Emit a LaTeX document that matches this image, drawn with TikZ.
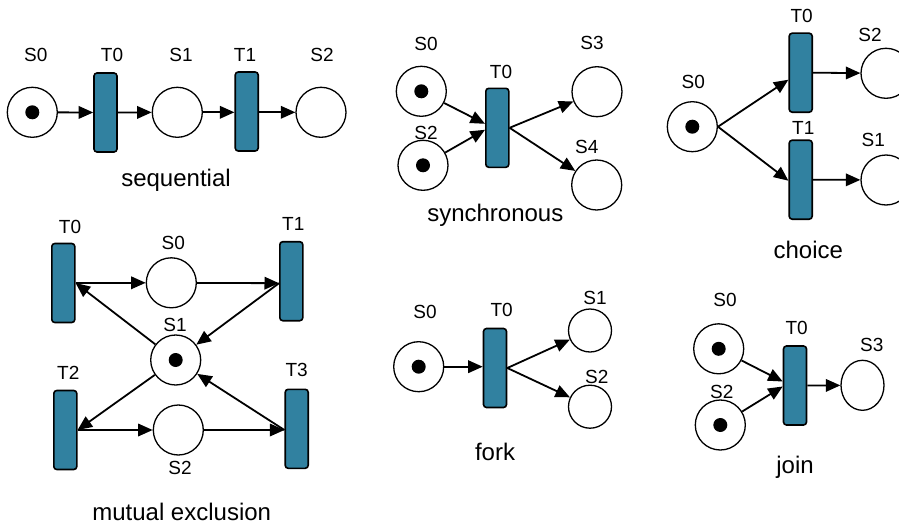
\documentclass[tikz,border=0pt]{standalone}
\usepackage{fontspec}
\setmainfont{Liberation Sans}
\usetikzlibrary{arrows.meta,shapes.geometric}
\definecolor{transfill}{HTML}{3181A0}
\tikzset{
  place/.style={circle, draw, line width=1.3pt, minimum size=50pt, inner sep=0pt},
  smallplace/.style={place, minimum size=43pt},
  tokplace/.style={place, path picture={\fill (path picture bounding box.center) circle (7pt);}},
  trans/.style={rectangle, rounded corners=3pt, draw, line width=1.6pt, fill=transfill, minimum width=23pt, minimum height=79pt, inner sep=0pt},
  lbl/.style={inner sep=0pt, font=\fontsize{19}{22}\selectfont},
  captxt/.style={inner sep=0pt, anchor=base, font=\fontsize{24}{28}\selectfont},
  arc/.style={line width=1.8pt, -{Triangle[length=14.5pt,width=12.5pt]}},
}
\begin{document}
\begin{tikzpicture}[x=1pt,y=-1pt]
\useasboundingbox (0,0) rectangle (899,527);

% ---------- sequential ----------
\node[tokplace] (qS0) at (32.3,112.3) {};
\node[trans] (qT0) at (105.5,112.5) {};
\node[place] (qS1) at (177.3,112.3) {};
\node[trans] (qT1) at (246.7,111.5) {};
\node[place] (qS2) at (321,112.3) {};
\node[lbl] (lqS0) at (35.7,55) {S0};
\node[lbl] (lqT0) at (112,55) {T0};
\node[lbl] (lqS1) at (181,55) {S1};
\node[lbl] (lqT1) at (245,55) {T1};
\node[lbl] (lqS2) at (322,55) {S2};
\node[captxt] (cseq) at (176,186.7) {sequential};
\draw[arc] (qS0) -- (qT0);
\draw[arc] (qT0) -- (qS1);
\draw[arc] (qS1) -- (qT1.west |- qS1);
\draw[arc] (qT1.east |- qS2) -- (qS2);

% ---------- synchronous ----------
\node[tokplace] (yS0) at (421.3,91.3) {};
\node[tokplace] (yS2) at (423,165.3) {};
\node[trans] (yT0) at (497.3,127.8) {};
\node[place] (yS3) at (597,91.7) {};
\node[place] (yS4) at (596.7,185) {};
\node[lbl] (lyS0) at (426,44.3) {S0};
\node[lbl] (lyT0) at (501,71.7) {T0};
\node[lbl] (lyS3) at (592,43.3) {S3};
\node[lbl] (lyS2) at (426,133.3) {S2};
\node[lbl] (lyS4) at (586.7,146.7) {S4};
\node[captxt] (csyn) at (495.3,221.7) {synchronous};
\draw[arc] (yS0) -- ([yshift=4pt]yT0.west);
\draw[arc] (yS2) -- ([yshift=-2pt]yT0.west);
\draw[arc] (yT0.east) -- (yS3);
\draw[arc] (yT0.east) -- (yS4);

% ---------- choice ----------
\node[tokplace] (cS0) at (692.3,126.7) {};
\node[trans] (cT0) at (800.7,72.7) {};
\node[trans] (cT1) at (800.7,179.7) {};
\node[place] (cS2) at (886,73.3) {};
\node[place] (cS1) at (886,180) {};
\node[lbl] (lcT0) at (801.7,15.7) {T0};
\node[lbl] (lcS2) at (870,35) {S2};
\node[lbl] (lcS0) at (693.3,81.7) {S0};
\node[lbl] (lcT1) at (803.3,128.3) {T1};
\node[lbl] (lcS1) at (873.3,140) {S1};
\node[captxt] (cch) at (808.3,258.3) {choice};
\draw[arc] (cS0.east) -- ([yshift=-7pt]cT0.west);
\draw[arc] (cS0.east) -- ([yshift=-1pt]cT1.west);
\draw[arc] (cT0.east) -- (cS2);
\draw[arc] (cT1.east) -- (cS1);

% ---------- mutual exclusion ----------
\node[trans] (mT0) at (63.3,283) {};
\node[trans] (mT1) at (291.3,281.2) {};
\node[trans] (mT2) at (65.3,430) {};
\node[trans] (mT3) at (296.7,428.8) {};
\node[place] (mS0) at (171.3,282.8) {};
\node[tokplace] (mS1) at (175.7,360) {};
\node[place] (mS2) at (178.3,430) {};
\node[lbl] (lmT0) at (70,226.7) {T0};
\node[lbl] (lmS0) at (173.3,243.3) {S0};
\node[lbl] (lmT1) at (293.3,224.3) {T1};
\node[lbl] (lmS1) at (175,325) {S1};
\node[lbl] (lmT2) at (68.3,373.3) {T2};
\node[lbl] (lmT3) at (296.7,370) {T3};
\node[lbl] (lmS2) at (180,468.3) {S2};
\node[captxt] (cmut) at (181.7,520) {mutual exclusion};
\draw[arc] (mT0.east |- mS0) -- (mS0);
\draw[arc] (mS0) -- ([yshift=-2pt]mT1.west);
\draw[arc] ([yshift=-2pt]mT1.west) -- (mS1);
\draw[arc] (mS1) -- (mT0.east);
\draw[arc] (mS1) -- (mT2.east);
\draw[arc] (mT2.east) -- (mS2);
\draw[arc] (mS2) -- (mT3.west |- mS2);
\draw[arc] (mT3.west |- mS2) -- (mS1);

% ---------- fork ----------
\node[tokplace] (fS0) at (418.7,366.7) {};
\node[trans] (fT0) at (495,368) {};
\node[smallplace] (fS1) at (590,330.5) {};
\node[smallplace] (fS2) at (590,406.7) {};
\node[lbl] (lfS0) at (425,311.7) {S0};
\node[lbl] (lfT0) at (501.7,310) {T0};
\node[lbl] (lfS1) at (595,298.3) {S1};
\node[lbl] (lfS2) at (596.7,376.7) {S2};
\node[captxt] (cfork) at (495,460) {fork};
\draw[arc] (fS0) -- (fT0.west |- fS0);
\draw[arc] (fT0.east) -- (fS1);
\draw[arc] (fT0.east) -- (fS2);

% ---------- join ----------
\node[tokplace] (jS0) at (718.7,348.8) {};
\node[tokplace] (jS2) at (720.3,425) {};
\node[trans] (jT0) at (795,385.5) {};
\node[ellipse, draw, line width=1.3pt, minimum width=43pt, minimum height=50pt, inner sep=0pt] (jS3) at (862.5,385.3) {};
\node[lbl] (ljS0) at (725,300) {S0};
\node[lbl] (ljT0) at (796.7,328.3) {T0};
\node[lbl] (ljS3) at (871.7,345) {S3};
\node[lbl] (ljS2) at (721.7,391.7) {S2};
\node[captxt] (cjoin) at (795,473.3) {join};
\draw[arc] (jS0) -- ([yshift=4pt]jT0.west);
\draw[arc] (jS2) -- ([yshift=-1pt]jT0.west);
\draw[arc] (jT0.east) -- (jS3);
\end{tikzpicture}
\end{document}
